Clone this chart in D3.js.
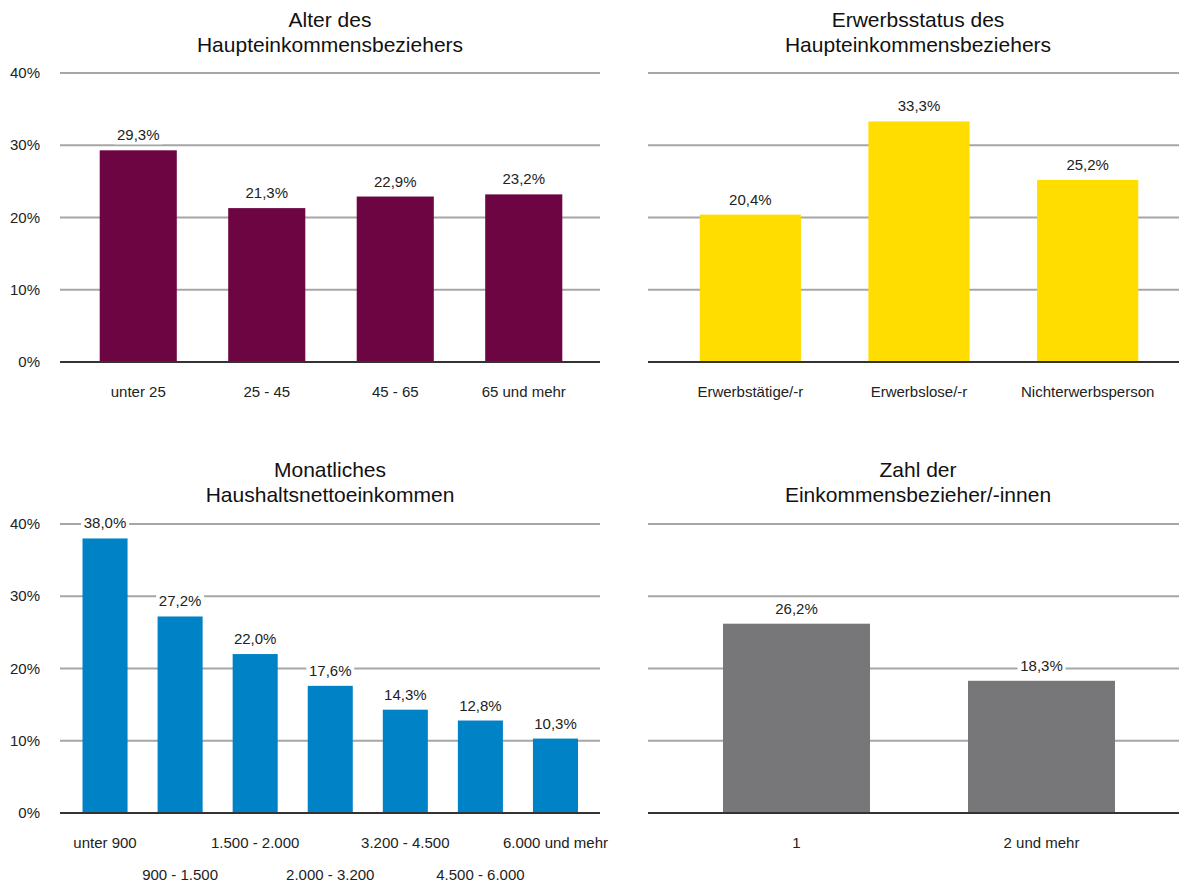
<!DOCTYPE html>
<html><head><meta charset="utf-8">
<script src="https://cdn.jsdelivr.net/npm/d3@7"></script>
<style>body{margin:0;background:#fff}svg{display:block;font-family:"Liberation Sans",Arial,sans-serif}</style>
</head><body>
<svg id="c" width="1179" height="885"></svg>
<script>
const ageCats = ["unter 25","25 - 45","45 - 65","65 und mehr"];
const ageVals = [29.3,21.3,22.9,23.2];
const statusCats = ["Erwerbstätige/-r","Erwerbslose/-r","Nichterwerbsperson"];
const statusVals = [20.4,33.3,25.2];
const incomeCats = ["unter 900","900 - 1.500","1.500 - 2.000","2.000 - 3.200","3.200 - 4.500","4.500 - 6.000","6.000 und mehr"];
const incomeVals = [38.0,27.2,22.0,17.6,14.3,12.8,10.3];
const earnerCats = ["1","2 und mehr"];
const earnerVals = [26.2,18.3];
const yTicks = [0,10,20,30,40];

const svg = d3.select("#c");
const fmt = v => d3.format(".1f")(v).replace(".", ",") + "%";

function panel(o){
  const g = svg.append("g");
  const y = d3.scaleLinear().domain([0,40]).range([o.y0, o.y0 - 289]);
  const x = d3.scaleBand().domain(o.cats).range(o.xr).paddingInner(0.4).paddingOuter(0.2);
  g.append("text").attr("x", o.tx).attr("y", o.ty).attr("text-anchor","middle")
    .attr("font-size",21).attr("fill","#111")
    .selectAll("tspan").data(o.title).join("tspan")
    .attr("x", o.tx).attr("dy",(d,i)=> i? 25:0).text(d=>d);
  g.selectAll(".grid").data(yTicks.filter(t=>t>0)).join("line")
    .attr("x1", o.gx[0]).attr("x2", o.gx[1])
    .attr("y1", d=>y(d)).attr("y2", d=>y(d))
    .attr("stroke","#a6a6a6").attr("stroke-width",2);
  if (o.yLabels){
    g.selectAll(".yl").data(yTicks).join("text")
      .attr("x", 40).attr("y", d=>y(d)+5).attr("text-anchor","end")
      .attr("font-size",15).attr("fill","#222").text(d=>d+"%");
  }
  g.selectAll(".bar").data(o.vals).join("rect")
    .attr("x",(d,i)=>x(o.cats[i])).attr("width",x.bandwidth())
    .attr("y",d=>y(d)).attr("height",d=>y(0)-y(d)).attr("fill",o.color);
  g.append("line").attr("x1",o.gx[0]).attr("x2",o.gx[1]).attr("y1",y(0)).attr("y2",y(0))
    .attr("stroke","#333").attr("stroke-width",2);
  const lbl = g.selectAll(".vl").data(o.vals).join("g")
    .attr("transform",(d,i)=>`translate(${x(o.cats[i])+x.bandwidth()/2},${y(d)-10})`);
  lbl.append("rect").attr("x",-24).attr("y",-14).attr("width",48).attr("height",18).attr("fill","#fff");
  lbl.append("text").attr("text-anchor","middle").attr("font-size",15).attr("fill","#222").text(d=>fmt(d));
  g.selectAll(".cl").data(o.cats).join("text")
    .attr("x",d=>x(d)+x.bandwidth()/2)
    .attr("y",(d,i)=> o.stagger && i%2 ? y(0)+67 : y(0)+35)
    .attr("text-anchor","middle").attr("font-size",15).attr("fill","#222").text(d=>d);
}

panel({cats:ageCats, vals:ageVals, color:"#6d0542", y0:362, xr:[74,588], gx:[60,600], tx:330, ty:27, title:["Alter des","Haupteinkommensbeziehers"], yLabels:true});
panel({cats:statusCats, vals:statusVals, color:"#ffdd00", y0:362, xr:[666,1172], gx:[648,1179], tx:918, ty:27, title:["Erwerbsstatus des","Haupteinkommensbeziehers"], yLabels:false});
panel({cats:incomeCats, vals:incomeVals, color:"#0082c6", y0:813, xr:[67.5,593], gx:[60,600], tx:330, ty:477, title:["Monatliches","Haushaltsnettoeinkommen"], yLabels:true, stagger:true});
panel({cats:earnerCats, vals:earnerVals, color:"#77777a", y0:813, xr:[674,1164], gx:[648,1179], tx:918, ty:477, title:["Zahl der","Einkommensbezieher/-innen"], yLabels:false});
</script>
</body></html>
